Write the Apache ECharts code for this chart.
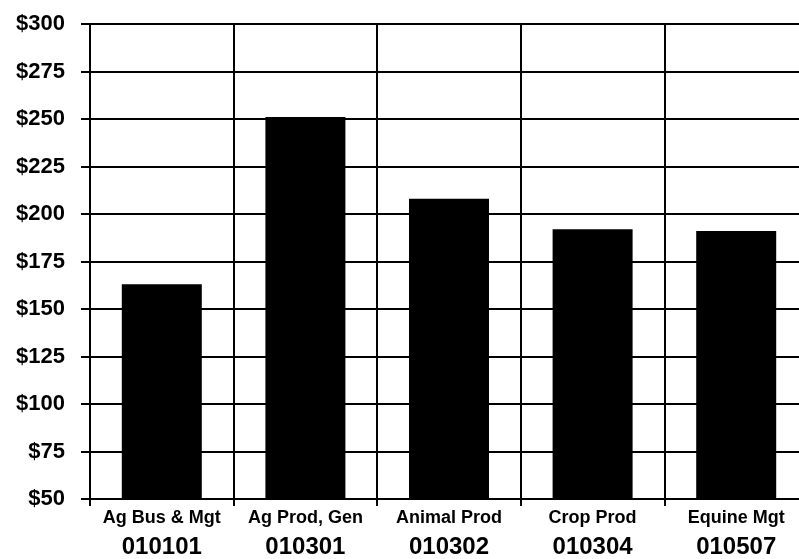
<!DOCTYPE html>
<html><head><meta charset="utf-8">
<script src="https://cdn.jsdelivr.net/npm/echarts@6/dist/echarts.min.js"></script>
<style>html,body{margin:0;padding:0;background:#fff;overflow:hidden}#c{width:808px;height:559px}</style>
</head><body><div id="c"></div>
<script>
const names = ["Ag Bus & Mgt","Ag Prod, Gen","Animal Prod","Crop Prod","Equine Mgt"];
const codes = ["010101","010301","010302","010304","010507"];
const values = [163, 251, 208, 192, 191];
const yTicks = {min:50, max:300, step:25};
const chart = echarts.init(document.getElementById('c'));
chart.setOption({
  animation:false,
  backgroundColor:'#fff',
  grid:{left:90,top:24,right:0,bottom:56,containLabel:false},
  xAxis:{type:'category',data:names.map((n,i)=>n+'\n'+codes[i]),
    axisLine:{lineStyle:{color:'#000',width:2}},
    axisTick:{show:true,length:7,lineStyle:{color:'#000',width:2}},
    splitLine:{show:true,lineStyle:{color:'#000',width:2}},
    axisLabel:{margin:8,color:'#000',fontFamily:'Liberation Sans',fontWeight:'bold',
      formatter:(v)=>{const p=v.split('\n');return '{a|'+p[0]+'}\n{b|'+p[1]+'}';},
      rich:{a:{fontSize:18,fontWeight:'bold',fontFamily:'Liberation Sans',color:'#000',lineHeight:22},
            b:{fontSize:24,fontWeight:'bold',fontFamily:'Liberation Sans',color:'#000',lineHeight:36}}}},
  yAxis:{type:'value',min:yTicks.min,max:yTicks.max,interval:yTicks.step,
    axisLine:{show:true,lineStyle:{color:'#000',width:2}},
    axisTick:{show:true,length:9,lineStyle:{color:'#000',width:2}},
    splitLine:{show:true,lineStyle:{color:'#000',width:2}},
    axisLabel:{margin:25,color:'#000',fontSize:22,fontWeight:'bold',fontFamily:'Liberation Sans',
      formatter:v=>'$'+v}},
  series:[{type:'bar',data:values,barWidth:80,itemStyle:{color:'#000'}}]
});
</script></body></html>
